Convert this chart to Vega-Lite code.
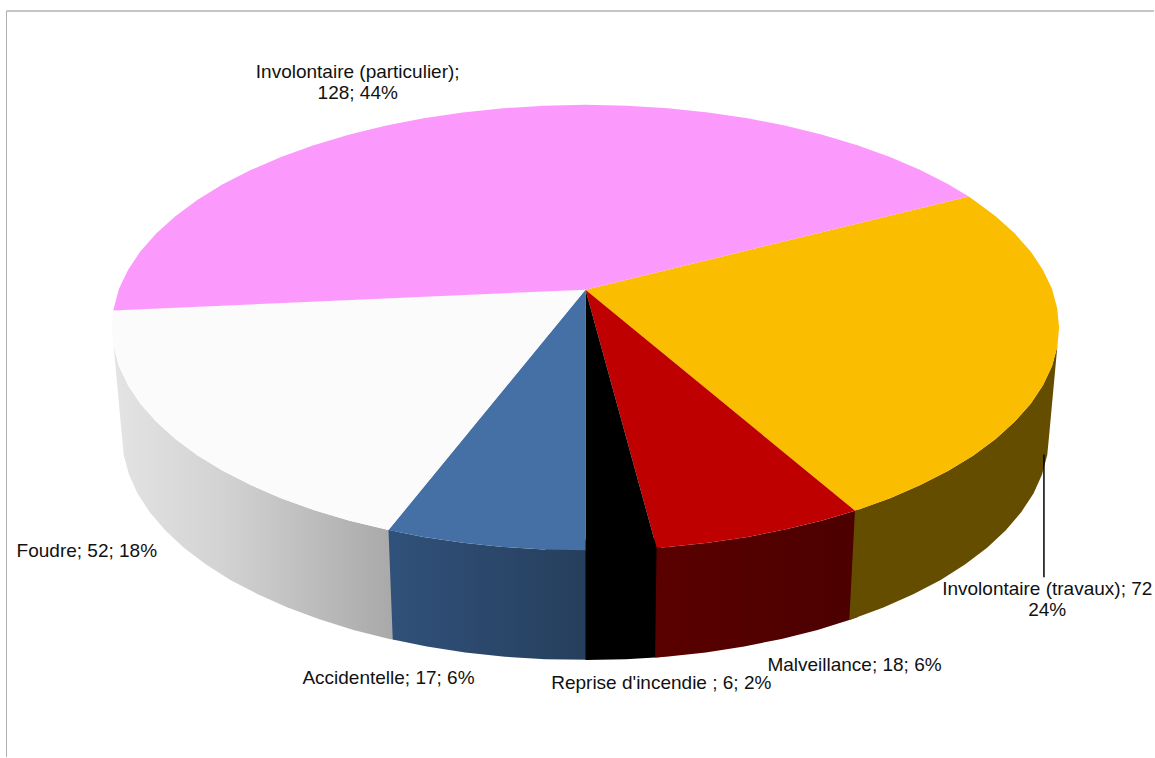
{"$schema":"https://vega.github.io/schema/vega-lite/v6.json","autosize":{"type":"fit","contains":"padding"},"width":1155,"height":758,"padding":0,"background":"white","view":{"stroke":null},
"datasets":{
"outline":[
{"part":"Involontaire (travaux)","i":0,"x":0,"y":-0.17},{"part":"Involontaire (travaux)","i":1,"x":0.809,"y":-0.588},{"part":"Involontaire (travaux)","i":2,"x":0.819,"y":-0.574},{"part":"Involontaire (travaux)","i":3,"x":0.866,"y":-0.5},{"part":"Involontaire (travaux)","i":4,"x":0.906,"y":-0.423},{"part":"Involontaire (travaux)","i":5,"x":0.94,"y":-0.342},{"part":"Involontaire (travaux)","i":6,"x":0.966,"y":-0.259},{"part":"Involontaire (travaux)","i":7,"x":0.985,"y":-0.174},{"part":"Involontaire (travaux)","i":8,"x":0.996,"y":-0.087},{"part":"Involontaire (travaux)","i":9,"x":1,"y":0},{"part":"Involontaire (travaux)","i":10,"x":0.996,"y":0.087},{"part":"Involontaire (travaux)","i":11,"x":0.985,"y":0.174},{"part":"Involontaire (travaux)","i":12,"x":0.966,"y":0.259},{"part":"Involontaire (travaux)","i":13,"x":0.94,"y":0.342},{"part":"Involontaire (travaux)","i":14,"x":0.906,"y":0.423},{"part":"Involontaire (travaux)","i":15,"x":0.866,"y":0.5},{"part":"Involontaire (travaux)","i":16,"x":0.819,"y":0.574},{"part":"Involontaire (travaux)","i":17,"x":0.766,"y":0.643},{"part":"Involontaire (travaux)","i":18,"x":0.707,"y":0.707},{"part":"Involontaire (travaux)","i":19,"x":0.643,"y":0.766},{"part":"Involontaire (travaux)","i":20,"x":0.574,"y":0.819},{"part":"Involontaire (travaux)","i":21,"x":0.569,"y":0.822},{"part":"Involontaire (travaux)","i":22,"x":0,"y":-0.17},
{"part":"Malveillance","i":0,"x":0,"y":-0.17},{"part":"Malveillance","i":1,"x":0.569,"y":0.822},{"part":"Malveillance","i":2,"x":0.5,"y":0.866},{"part":"Malveillance","i":3,"x":0.423,"y":0.906},{"part":"Malveillance","i":4,"x":0.342,"y":0.94},{"part":"Malveillance","i":5,"x":0.259,"y":0.966},{"part":"Malveillance","i":6,"x":0.174,"y":0.985},{"part":"Malveillance","i":7,"x":0.15,"y":0.989},{"part":"Malveillance","i":8,"x":0,"y":-0.17},
{"part":"Reprise d'incendie","i":0,"x":0,"y":-0.17},{"part":"Reprise d'incendie","i":1,"x":0.15,"y":0.989},{"part":"Reprise d'incendie","i":2,"x":0.087,"y":0.996},{"part":"Reprise d'incendie","i":3,"x":0,"y":1},{"part":"Reprise d'incendie","i":4,"x":0,"y":-0.17},
{"part":"Accidentelle","i":0,"x":0,"y":-0.17},{"part":"Accidentelle","i":1,"x":0,"y":1},{"part":"Accidentelle","i":2,"x":-0.087,"y":0.996},{"part":"Accidentelle","i":3,"x":-0.174,"y":0.985},{"part":"Accidentelle","i":4,"x":-0.259,"y":0.966},{"part":"Accidentelle","i":5,"x":-0.342,"y":0.94},{"part":"Accidentelle","i":6,"x":-0.416,"y":0.909},{"part":"Accidentelle","i":7,"x":0,"y":-0.17},
{"part":"Foudre","i":0,"x":0,"y":-0.17},{"part":"Foudre","i":1,"x":-0.416,"y":0.909},{"part":"Foudre","i":2,"x":-0.423,"y":0.906},{"part":"Foudre","i":3,"x":-0.5,"y":0.866},{"part":"Foudre","i":4,"x":-0.574,"y":0.819},{"part":"Foudre","i":5,"x":-0.643,"y":0.766},{"part":"Foudre","i":6,"x":-0.707,"y":0.707},{"part":"Foudre","i":7,"x":-0.766,"y":0.643},{"part":"Foudre","i":8,"x":-0.819,"y":0.574},{"part":"Foudre","i":9,"x":-0.866,"y":0.5},{"part":"Foudre","i":10,"x":-0.906,"y":0.423},{"part":"Foudre","i":11,"x":-0.94,"y":0.342},{"part":"Foudre","i":12,"x":-0.966,"y":0.259},{"part":"Foudre","i":13,"x":-0.985,"y":0.174},{"part":"Foudre","i":14,"x":-0.996,"y":0.087},{"part":"Foudre","i":15,"x":-1,"y":0},{"part":"Foudre","i":16,"x":-0.997,"y":-0.077},{"part":"Foudre","i":17,"x":0,"y":-0.17},
{"part":"Involontaire (particulier)","i":0,"x":0,"y":-0.17},{"part":"Involontaire (particulier)","i":1,"x":-0.997,"y":-0.077},{"part":"Involontaire (particulier)","i":2,"x":-0.996,"y":-0.087},{"part":"Involontaire (particulier)","i":3,"x":-0.985,"y":-0.174},{"part":"Involontaire (particulier)","i":4,"x":-0.966,"y":-0.259},{"part":"Involontaire (particulier)","i":5,"x":-0.94,"y":-0.342},{"part":"Involontaire (particulier)","i":6,"x":-0.906,"y":-0.423},{"part":"Involontaire (particulier)","i":7,"x":-0.866,"y":-0.5},{"part":"Involontaire (particulier)","i":8,"x":-0.819,"y":-0.574},{"part":"Involontaire (particulier)","i":9,"x":-0.766,"y":-0.643},{"part":"Involontaire (particulier)","i":10,"x":-0.707,"y":-0.707},{"part":"Involontaire (particulier)","i":11,"x":-0.643,"y":-0.766},{"part":"Involontaire (particulier)","i":12,"x":-0.574,"y":-0.819},{"part":"Involontaire (particulier)","i":13,"x":-0.5,"y":-0.866},{"part":"Involontaire (particulier)","i":14,"x":-0.423,"y":-0.906},{"part":"Involontaire (particulier)","i":15,"x":-0.342,"y":-0.94},{"part":"Involontaire (particulier)","i":16,"x":-0.259,"y":-0.966},{"part":"Involontaire (particulier)","i":17,"x":-0.174,"y":-0.985},{"part":"Involontaire (particulier)","i":18,"x":-0.087,"y":-0.996},{"part":"Involontaire (particulier)","i":19,"x":0,"y":-1},{"part":"Involontaire (particulier)","i":20,"x":0.087,"y":-0.996},{"part":"Involontaire (particulier)","i":21,"x":0.174,"y":-0.985},{"part":"Involontaire (particulier)","i":22,"x":0.259,"y":-0.966},{"part":"Involontaire (particulier)","i":23,"x":0.342,"y":-0.94},{"part":"Involontaire (particulier)","i":24,"x":0.423,"y":-0.906},{"part":"Involontaire (particulier)","i":25,"x":0.5,"y":-0.866},{"part":"Involontaire (particulier)","i":26,"x":0.574,"y":-0.819},{"part":"Involontaire (particulier)","i":27,"x":0.643,"y":-0.766},{"part":"Involontaire (particulier)","i":28,"x":0.707,"y":-0.707},{"part":"Involontaire (particulier)","i":29,"x":0.766,"y":-0.643},{"part":"Involontaire (particulier)","i":30,"x":0.809,"y":-0.588},{"part":"Involontaire (particulier)","i":31,"x":0,"y":-0.17}
],
"wall":[
{"part":"brown","i":0,"x":1,"y":0},{"part":"brown","i":1,"x":0.996,"y":0.087},{"part":"brown","i":2,"x":0.985,"y":0.174},{"part":"brown","i":3,"x":0.966,"y":0.259},{"part":"brown","i":4,"x":0.94,"y":0.342},{"part":"brown","i":5,"x":0.906,"y":0.423},{"part":"brown","i":6,"x":0.866,"y":0.5},{"part":"brown","i":7,"x":0.819,"y":0.574},{"part":"brown","i":8,"x":0.766,"y":0.643},{"part":"brown","i":9,"x":0.707,"y":0.707},{"part":"brown","i":10,"x":0.643,"y":0.766},{"part":"brown","i":11,"x":0.574,"y":0.819},{"part":"brown","i":12,"x":0.569,"y":0.822},{"part":"brown","i":13,"x":0.557,"y":1.313},{"part":"brown","i":14,"x":0.562,"y":1.31},{"part":"brown","i":15,"x":0.629,"y":1.257},{"part":"brown","i":16,"x":0.692,"y":1.197},{"part":"brown","i":17,"x":0.75,"y":1.133},{"part":"brown","i":18,"x":0.802,"y":1.063},{"part":"brown","i":19,"x":0.848,"y":0.989},{"part":"brown","i":20,"x":0.887,"y":0.911},{"part":"brown","i":21,"x":0.92,"y":0.829},{"part":"brown","i":22,"x":0.946,"y":0.745},{"part":"brown","i":23,"x":0.964,"y":0.66},{"part":"brown","i":24,"x":0.975,"y":0.572},{"part":"brown","i":25,"x":0.979,"y":0.484},
{"part":"red","i":0,"x":0.569,"y":0.822},{"part":"red","i":1,"x":0.5,"y":0.866},{"part":"red","i":2,"x":0.423,"y":0.906},{"part":"red","i":3,"x":0.342,"y":0.94},{"part":"red","i":4,"x":0.259,"y":0.966},{"part":"red","i":5,"x":0.174,"y":0.985},{"part":"red","i":6,"x":0.15,"y":0.989},{"part":"red","i":7,"x":0.147,"y":1.482},{"part":"red","i":8,"x":0.17,"y":1.478},{"part":"red","i":9,"x":0.254,"y":1.459},{"part":"red","i":10,"x":0.335,"y":1.432},{"part":"red","i":11,"x":0.414,"y":1.398},{"part":"red","i":12,"x":0.49,"y":1.358},{"part":"red","i":13,"x":0.557,"y":1.313},{"part":"red","i":14,"x":0.575,"y":1.3},{"part":"red","i":15,"x":0.575,"y":0.8},
{"part":"black","i":0,"x":0.16,"y":0.95},{"part":"black","i":1,"x":0,"y":0.95},{"part":"black","i":2,"x":0,"y":1.493},{"part":"black","i":3,"x":0.085,"y":1.489},{"part":"black","i":4,"x":0.147,"y":1.482},{"part":"black","i":5,"x":0.16,"y":1.479},
{"part":"blue","i":0,"x":0.01,"y":0.95},{"part":"blue","i":1,"x":-0.087,"y":0.996},{"part":"blue","i":2,"x":-0.174,"y":0.985},{"part":"blue","i":3,"x":-0.259,"y":0.966},{"part":"blue","i":4,"x":-0.342,"y":0.94},{"part":"blue","i":5,"x":-0.416,"y":0.909},{"part":"blue","i":6,"x":-0.407,"y":1.401},{"part":"blue","i":7,"x":-0.335,"y":1.432},{"part":"blue","i":8,"x":-0.254,"y":1.459},{"part":"blue","i":9,"x":-0.17,"y":1.478},{"part":"blue","i":10,"x":-0.085,"y":1.489},{"part":"blue","i":11,"x":0.01,"y":1.492},
{"part":"grey","i":0,"x":-0.416,"y":0.909},{"part":"grey","i":1,"x":-0.5,"y":0.866},{"part":"grey","i":2,"x":-0.574,"y":0.819},{"part":"grey","i":3,"x":-0.643,"y":0.766},{"part":"grey","i":4,"x":-0.707,"y":0.707},{"part":"grey","i":5,"x":-0.766,"y":0.643},{"part":"grey","i":6,"x":-0.819,"y":0.574},{"part":"grey","i":7,"x":-0.866,"y":0.5},{"part":"grey","i":8,"x":-0.906,"y":0.423},{"part":"grey","i":9,"x":-0.94,"y":0.342},{"part":"grey","i":10,"x":-0.966,"y":0.259},{"part":"grey","i":11,"x":-0.985,"y":0.174},{"part":"grey","i":12,"x":-0.996,"y":0.087},{"part":"grey","i":13,"x":-1,"y":0},{"part":"grey","i":14,"x":-0.979,"y":0.484},{"part":"grey","i":15,"x":-0.975,"y":0.572},{"part":"grey","i":16,"x":-0.964,"y":0.66},{"part":"grey","i":17,"x":-0.946,"y":0.745},{"part":"grey","i":18,"x":-0.92,"y":0.829},{"part":"grey","i":19,"x":-0.887,"y":0.911},{"part":"grey","i":20,"x":-0.848,"y":0.989},{"part":"grey","i":21,"x":-0.802,"y":1.063},{"part":"grey","i":22,"x":-0.75,"y":1.133},{"part":"grey","i":23,"x":-0.692,"y":1.197},{"part":"grey","i":24,"x":-0.629,"y":1.257},{"part":"grey","i":25,"x":-0.562,"y":1.31},{"part":"grey","i":26,"x":-0.49,"y":1.358},{"part":"grey","i":27,"x":-0.414,"y":1.398},{"part":"grey","i":28,"x":-0.407,"y":1.401},{"part":"grey","i":29,"x":-0.4,"y":1.404},{"part":"grey","i":30,"x":-0.4,"y":0.9}
],
"labels":[
{"label":"Involontaire (particulier);\n128; 44%","x":-0.481,"y":-1.148},
{"label":"Involontaire (travaux); 72\n24%","x":0.975,"y":1.175},
{"label":"Malveillance; 18; 6%","x":0.568,"y":1.516},
{"label":"Reprise d'incendie ; 6; 2%","x":0.16,"y":1.596},
{"label":"Accidentelle; 17; 6%","x":-0.416,"y":1.574},
{"label":"Foudre; 52; 18%","x":-1.053,"y":1.004}
]},
"layer":[
{"data":{"values":[{"x":-1.2226,"x2":1.2004,"y":-1.4215,"y2":-1.4215}]},"mark":{"type":"rule","stroke":"#8c8c8c","strokeWidth":1},"encoding":{"x":{"field":"x","type":"quantitative","scale":{"domain":[-1.2363,1.2004]},"axis":null},"x2":{"field":"x2"},"y":{"field":"y","type":"quantitative","scale":{"domain":[1.9283,-1.4709]},"axis":null},"y2":{"field":"y2"}}},
{"data":{"values":[{"x":-1.2226,"y":-1.4215,"y2":1.9283}]},"mark":{"type":"rule","stroke":"#b0b0b0","strokeWidth":1},"encoding":{"x":{"field":"x","type":"quantitative","scale":{"domain":[-1.2363,1.2004]},"axis":null},"y":{"field":"y","type":"quantitative","scale":{"domain":[1.9283,-1.4709]},"axis":null},"y2":{"field":"y2"}}},
{"data":{"name":"wall"},"transform":[{"filter":"datum.part==='grey'"}],"mark":{"type":"line","filled":true,"strokeWidth":0,"fill":{"gradient":"linear","x1":0,"y1":0,"x2":1,"y2":0,"stops":[{"offset":0,"color":"#e4e4e4"},{"offset":0.4,"color":"#d2d2d2"},{"offset":1,"color":"#a8a8a8"}]}},"encoding":{"x":{"field":"x","type":"quantitative","scale":{"domain":[-1.2363,1.2004]},"axis":null},"y":{"field":"y","type":"quantitative","scale":{"domain":[1.9283,-1.4709]},"axis":null},"order":{"field":"i"}}},
{"data":{"name":"wall"},"transform":[{"filter":"datum.part==='blue'"}],"mark":{"type":"line","filled":true,"strokeWidth":0,"fill":{"gradient":"linear","x1":0,"y1":0,"x2":1,"y2":0,"stops":[{"offset":0,"color":"#30517a"},{"offset":1,"color":"#263e5c"}]}},"encoding":{"x":{"field":"x","type":"quantitative","scale":{"domain":[-1.2363,1.2004]},"axis":null},"y":{"field":"y","type":"quantitative","scale":{"domain":[1.9283,-1.4709]},"axis":null},"order":{"field":"i"}}},
{"data":{"name":"wall"},"transform":[{"filter":"datum.part==='black'"}],"mark":{"type":"line","filled":true,"strokeWidth":0,"fill":"#000000"},"encoding":{"x":{"field":"x","type":"quantitative","scale":{"domain":[-1.2363,1.2004]},"axis":null},"y":{"field":"y","type":"quantitative","scale":{"domain":[1.9283,-1.4709]},"axis":null},"order":{"field":"i"}}},
{"data":{"name":"wall"},"transform":[{"filter":"datum.part==='red'"}],"mark":{"type":"line","filled":true,"strokeWidth":0,"fill":{"gradient":"linear","x1":0,"y1":0,"x2":1,"y2":0,"stops":[{"offset":0,"color":"#5a0000"},{"offset":1,"color":"#4c0000"}]}},"encoding":{"x":{"field":"x","type":"quantitative","scale":{"domain":[-1.2363,1.2004]},"axis":null},"y":{"field":"y","type":"quantitative","scale":{"domain":[1.9283,-1.4709]},"axis":null},"order":{"field":"i"}}},
{"data":{"name":"wall"},"transform":[{"filter":"datum.part==='brown'"}],"mark":{"type":"line","filled":true,"strokeWidth":0,"fill":"#654d00"},"encoding":{"x":{"field":"x","type":"quantitative","scale":{"domain":[-1.2363,1.2004]},"axis":null},"y":{"field":"y","type":"quantitative","scale":{"domain":[1.9283,-1.4709]},"axis":null},"order":{"field":"i"}}},
{"data":{"name":"outline"},"mark":{"type":"line","filled":true,"strokeWidth":0},"encoding":{"x":{"field":"x","type":"quantitative","scale":{"domain":[-1.2363,1.2004]},"axis":null},"y":{"field":"y","type":"quantitative","scale":{"domain":[1.9283,-1.4709]},"axis":null},"order":{"field":"i"},"fill":{"field":"part","type":"nominal","legend":null,"scale":{"domain":["Involontaire (particulier)","Involontaire (travaux)","Malveillance","Reprise d'incendie","Accidentelle","Foudre"],"range":["#fc99fc","#fbbd00","#bf0000","#000000","#4470a6","#fbfbfb"]}}}},
{"data":{"values":[{"x":0.968,"y":0.57,"y2":1.121}]},"mark":{"type":"rule","stroke":"#000000","strokeWidth":1.5},"encoding":{"x":{"field":"x","type":"quantitative","scale":{"domain":[-1.2363,1.2004]},"axis":null},"y":{"field":"y","type":"quantitative","scale":{"domain":[1.9283,-1.4709]},"axis":null},"y2":{"field":"y2"}}},
{"data":{"name":"labels"},"mark":{"type":"text","font":"Liberation Sans","fontSize":19,"color":"#111111","align":"center","baseline":"middle","lineBreak":"\n","lineHeight":21},"encoding":{"x":{"field":"x","type":"quantitative","scale":{"domain":[-1.2363,1.2004]},"axis":null},"y":{"field":"y","type":"quantitative","scale":{"domain":[1.9283,-1.4709]},"axis":null},"text":{"field":"label"}}}
]}
